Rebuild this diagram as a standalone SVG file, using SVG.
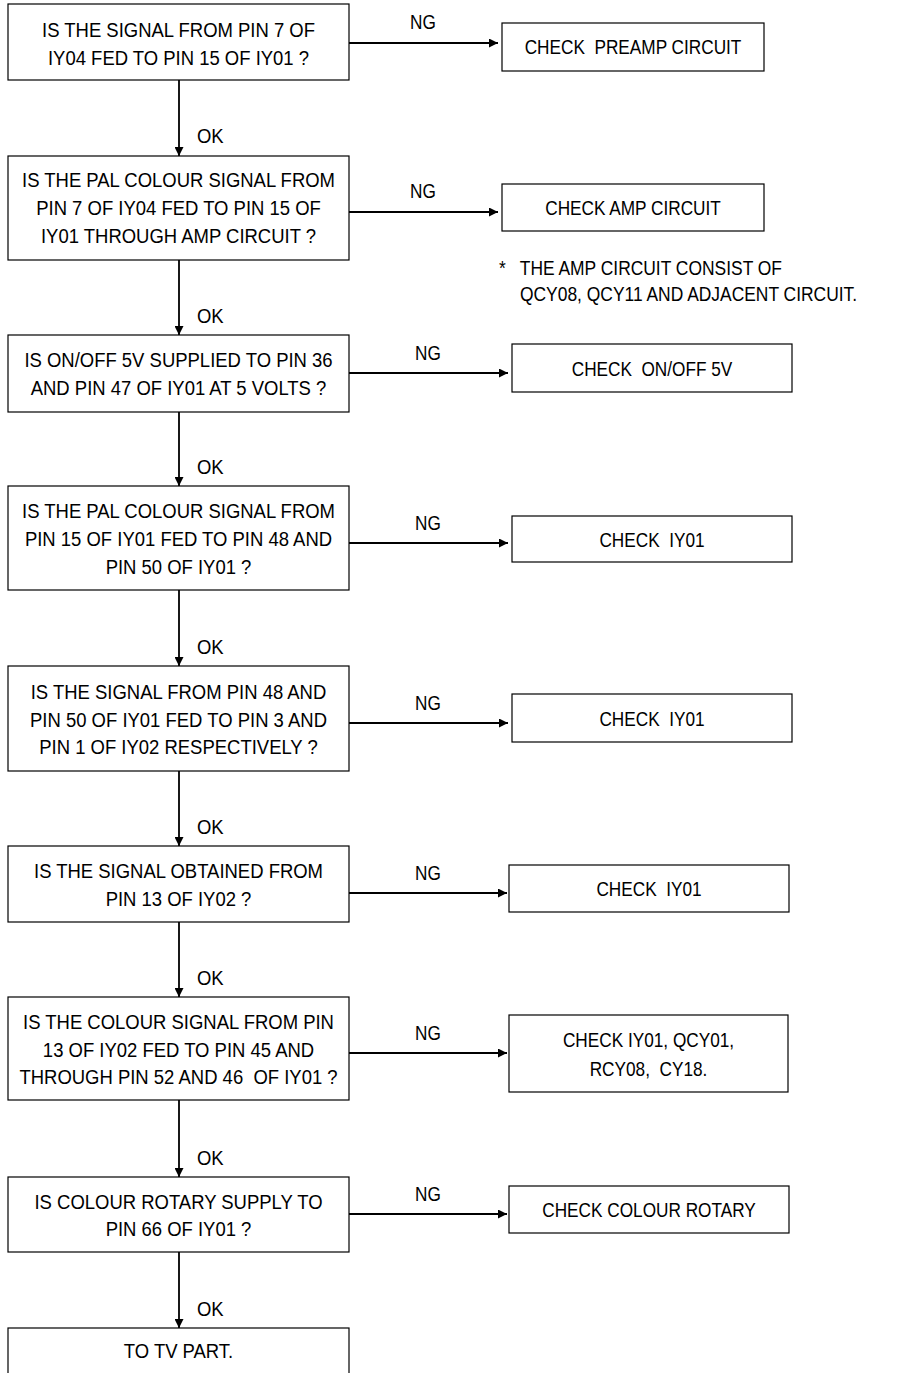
<svg xmlns="http://www.w3.org/2000/svg" width="897" height="1373" viewBox="0 0 897 1373">
<style>
  .bg { fill: #fff; }
  .box { fill: #fff; stroke: #000; stroke-width: 1.2; }
  .con { fill: none; stroke: #000; stroke-width: 1.8; }
  text { font-family: "Liberation Sans", Arial, sans-serif; font-size: 21px; fill: #000; white-space: pre; }
  .c { text-anchor: middle; }
</style>
<defs>
  <marker id="arr" markerUnits="userSpaceOnUse" markerWidth="9" markerHeight="9" refX="9" refY="4.5" orient="auto">
    <path d="M0,0 L9,4.5 L0,9 z" fill="#000"/>
  </marker>
</defs>
<rect class="bg" x="0" y="0" width="897" height="1373"/>

<g id="connectors">
  <line class="con" x1="179" y1="80" x2="179" y2="156" marker-end="url(#arr)"/>
  <line class="con" x1="179" y1="260" x2="179" y2="335" marker-end="url(#arr)"/>
  <line class="con" x1="179" y1="412" x2="179" y2="486" marker-end="url(#arr)"/>
  <line class="con" x1="179" y1="590" x2="179" y2="666" marker-end="url(#arr)"/>
  <line class="con" x1="179" y1="771" x2="179" y2="846" marker-end="url(#arr)"/>
  <line class="con" x1="179" y1="922" x2="179" y2="997" marker-end="url(#arr)"/>
  <line class="con" x1="179" y1="1100" x2="179" y2="1177" marker-end="url(#arr)"/>
  <line class="con" x1="179" y1="1252" x2="179" y2="1328" marker-end="url(#arr)"/>

  <line class="con" x1="349" y1="43" x2="498" y2="43" marker-end="url(#arr)"/>
  <line class="con" x1="349" y1="212" x2="498" y2="212" marker-end="url(#arr)"/>
  <line class="con" x1="349" y1="373" x2="508" y2="373" marker-end="url(#arr)"/>
  <line class="con" x1="349" y1="543" x2="508" y2="543" marker-end="url(#arr)"/>
  <line class="con" x1="349" y1="723" x2="508" y2="723" marker-end="url(#arr)"/>
  <line class="con" x1="349" y1="893" x2="507" y2="893" marker-end="url(#arr)"/>
  <line class="con" x1="349" y1="1053" x2="507" y2="1053" marker-end="url(#arr)"/>
  <line class="con" x1="349" y1="1214" x2="507" y2="1214" marker-end="url(#arr)"/>

  <text transform="translate(197,143) scale(.88,1)">OK</text>
  <text transform="translate(197,323) scale(.88,1)">OK</text>
  <text transform="translate(197,474) scale(.88,1)">OK</text>
  <text transform="translate(197,654) scale(.88,1)">OK</text>
  <text transform="translate(197,834) scale(.88,1)">OK</text>
  <text transform="translate(197,985) scale(.88,1)">OK</text>
  <text transform="translate(197,1165) scale(.88,1)">OK</text>
  <text transform="translate(197,1316) scale(.88,1)">OK</text>

  <text class="c" transform="translate(423,29) scale(.82,1)">NG</text>
  <text class="c" transform="translate(423,198) scale(.82,1)">NG</text>
  <text class="c" transform="translate(428,360) scale(.82,1)">NG</text>
  <text class="c" transform="translate(428,530) scale(.82,1)">NG</text>
  <text class="c" transform="translate(428,710) scale(.82,1)">NG</text>
  <text class="c" transform="translate(428,880) scale(.82,1)">NG</text>
  <text class="c" transform="translate(428,1040) scale(.82,1)">NG</text>
  <text class="c" transform="translate(428,1201) scale(.82,1)">NG</text>
</g>

<g id="q1">
  <rect class="box" x="8" y="4" width="341" height="76"/>
  <text class="c" transform="translate(178.5,37) scale(.88,1)"><tspan x="0">IS THE SIGNAL FROM PIN 7 OF</tspan><tspan x="0" dy="28">IY04 FED TO PIN 15 OF IY01 ?</tspan></text>
</g>
<g id="q2">
  <rect class="box" x="8" y="156" width="341" height="104"/>
  <text class="c" transform="translate(178.5,187) scale(.88,1)"><tspan x="0">IS THE PAL COLOUR SIGNAL FROM</tspan><tspan x="0" dy="28">PIN 7 OF IY04 FED TO PIN 15 OF</tspan><tspan x="0" dy="28">IY01 THROUGH AMP CIRCUIT ?</tspan></text>
</g>
<g id="q3">
  <rect class="box" x="8" y="335" width="341" height="77"/>
  <text class="c" transform="translate(178.5,367) scale(.88,1)"><tspan x="0">IS ON/OFF 5V SUPPLIED TO PIN 36</tspan><tspan x="0" dy="28">AND PIN 47 OF IY01 AT 5 VOLTS ?</tspan></text>
</g>
<g id="q4">
  <rect class="box" x="8" y="486" width="341" height="104"/>
  <text class="c" transform="translate(178.5,518) scale(.88,1)"><tspan x="0">IS THE PAL COLOUR SIGNAL FROM</tspan><tspan x="0" dy="28">PIN 15 OF IY01 FED TO PIN 48 AND</tspan><tspan x="0" dy="28">PIN 50 OF IY01 ?</tspan></text>
</g>
<g id="q5">
  <rect class="box" x="8" y="666" width="341" height="105"/>
  <text class="c" transform="translate(178.5,699) scale(.88,1)"><tspan x="0">IS THE SIGNAL FROM PIN 48 AND</tspan><tspan x="0" dy="28">PIN 50 OF IY01 FED TO PIN 3 AND</tspan><tspan x="0" dy="27">PIN 1 OF IY02 RESPECTIVELY ?</tspan></text>
</g>
<g id="q6">
  <rect class="box" x="8" y="846" width="341" height="76"/>
  <text class="c" transform="translate(178.5,878) scale(.88,1)"><tspan x="0">IS THE SIGNAL OBTAINED FROM</tspan><tspan x="0" dy="28">PIN 13 OF IY02 ?</tspan></text>
</g>
<g id="q7">
  <rect class="box" x="8" y="997" width="341" height="103"/>
  <text class="c" transform="translate(178.5,1029) scale(.88,1)"><tspan x="0">IS THE COLOUR SIGNAL FROM PIN</tspan><tspan x="0" dy="28">13 OF IY02 FED TO PIN 45 AND</tspan><tspan x="0" dy="27">THROUGH PIN 52 AND 46  OF IY01 ?</tspan></text>
</g>
<g id="q8">
  <rect class="box" x="8" y="1177" width="341" height="75"/>
  <text class="c" transform="translate(178.5,1209) scale(.88,1)"><tspan x="0">IS COLOUR ROTARY SUPPLY TO</tspan><tspan x="0" dy="27">PIN 66 OF IY01 ?</tspan></text>
</g>
<g id="end">
  <rect class="box" x="8" y="1328" width="341" height="80"/>
  <text class="c" transform="translate(178.5,1358) scale(.88,1)">TO TV PART.</text>
</g>

<g id="r1">
  <rect class="box" x="502" y="23" width="262" height="48"/>
  <text class="c" transform="translate(633,54) scale(.82,1)">CHECK  PREAMP CIRCUIT</text>
</g>
<g id="r2">
  <rect class="box" x="502" y="184" width="262" height="47"/>
  <text class="c" transform="translate(633,215) scale(.82,1)">CHECK AMP CIRCUIT</text>
</g>
<g id="note">
  <text transform="translate(499,275) scale(.83,1)"><tspan x="0">*</tspan><tspan x="25">THE AMP CIRCUIT CONSIST OF</tspan></text>
  <text transform="translate(520,301) scale(.83,1)">QCY08, QCY11 AND ADJACENT CIRCUIT.</text>
</g>
<g id="r3">
  <rect class="box" x="512" y="344" width="280" height="48"/>
  <text class="c" transform="translate(652,376) scale(.82,1)">CHECK  ON/OFF 5V</text>
</g>
<g id="r4">
  <rect class="box" x="512" y="516" width="280" height="46"/>
  <text class="c" transform="translate(652,547) scale(.82,1)">CHECK  IY01</text>
</g>
<g id="r5">
  <rect class="box" x="512" y="694" width="280" height="48"/>
  <text class="c" transform="translate(652,726) scale(.82,1)">CHECK  IY01</text>
</g>
<g id="r6">
  <rect class="box" x="509" y="865" width="280" height="47"/>
  <text class="c" transform="translate(649,896) scale(.82,1)">CHECK  IY01</text>
</g>
<g id="r7">
  <rect class="box" x="509" y="1015" width="279" height="77"/>
  <text class="c" transform="translate(648.5,1047) scale(.82,1)"><tspan x="0">CHECK IY01, QCY01,</tspan><tspan x="0" dy="29">RCY08,  CY18.</tspan></text>
</g>
<g id="r8">
  <rect class="box" x="509" y="1186" width="280" height="47"/>
  <text class="c" transform="translate(649,1217) scale(.82,1)">CHECK COLOUR ROTARY</text>
</g>
</svg>
